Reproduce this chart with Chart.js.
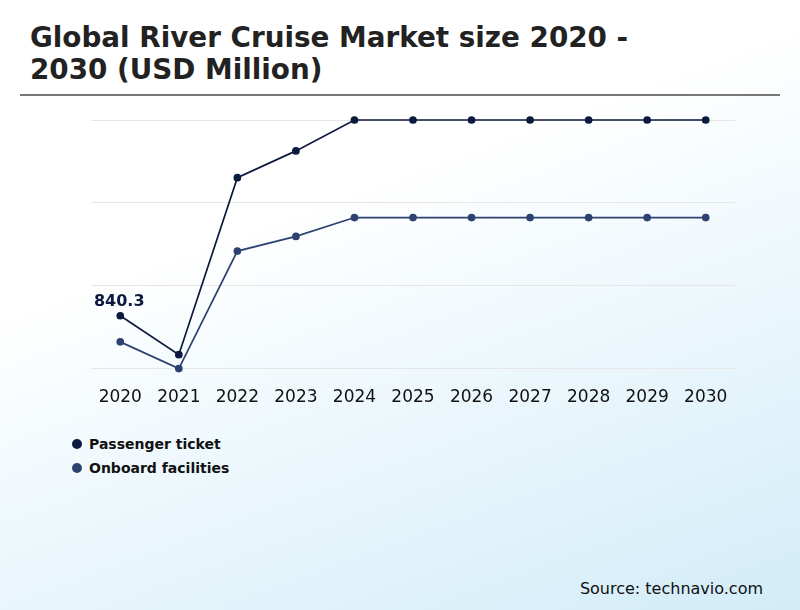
<!DOCTYPE html>
<html><head><meta charset="utf-8">
<script src="https://cdn.jsdelivr.net/npm/chart.js@4/dist/chart.umd.min.js"></script>
<style>
body{margin:0;width:800px;height:610px;overflow:hidden;font-family:"DejaVu Sans",sans-serif;background:linear-gradient(160deg,#ffffff 35%,#d2ecf8 100%);position:relative}
#t{position:absolute;left:30px;top:22px;font-size:27.8px;font-weight:bold;color:#222;line-height:32px}
#hr{position:absolute;left:20px;top:94px;width:760px;height:2px;background:#777}
#c{position:absolute;left:0;top:100px}
.lg{position:absolute;left:72px;font-size:14px;font-weight:bold;color:#111}
.lg span{display:inline-block;width:10px;height:10px;border-radius:5px;margin-right:7px}
#s{position:absolute;right:37px;top:579px;font-size:16px;color:#111}
</style></head><body>
<div id="t">Global River Cruise Market size 2020 -<br>2030 (USD Million)</div>
<div id="hr"></div>
<canvas id="c" width="800" height="319"></canvas>
<div class="lg" style="top:436px"><span style="background:#0b1a3e"></span>Passenger ticket</div>
<div class="lg" style="top:460px"><span style="background:#2e4272"></span>Onboard facilities</div>
<div id="s">Source: technavio.com</div>
<script>
const years=["2020","2021","2022","2023","2024","2025","2026","2027","2028","2029","2030"];
const passenger=[840.3,737,1207,1278,1360,1360,1360,1360,1360,1360,1360];
const onboard=[771,700,1012,1051,1101,1101,1101,1101,1101,1101,1101];
new Chart(document.getElementById('c'),{type:'line',
data:{labels:years,datasets:[
{label:'Passenger ticket',data:passenger,borderColor:'#0b1a3e',backgroundColor:'#0b1a3e',borderWidth:1.7,pointRadius:3,clip:false},
{label:'Onboard facilities',data:onboard,borderColor:'#2e4272',backgroundColor:'#2e4272',borderWidth:1.7,pointRadius:3,clip:false}]},
options:{responsive:false,animation:false,layout:{padding:{left:91,right:65,top:20}},
plugins:{legend:{display:false},tooltip:{enabled:false}},
scales:{x:{offset:true,grid:{display:false},border:{display:false},ticks:{color:'#111',font:{size:17,family:'DejaVu Sans'},padding:11}},
y:{min:700,max:1360,ticks:{display:false,stepSize:220},border:{display:false},grid:{color:'#e6e6e6',drawTicks:false}}}},
plugins:[{id:'lbl',afterDatasetsDraw(ch){const p=ch.getDatasetMeta(0).data[0];const c=ch.ctx;c.save();c.font='bold 16px DejaVu Sans';c.fillStyle='#0b1a3e';c.textAlign='center';c.fillText('840.3',p.x-1,p.y-10);c.restore();}}]
});
</script></body></html>
